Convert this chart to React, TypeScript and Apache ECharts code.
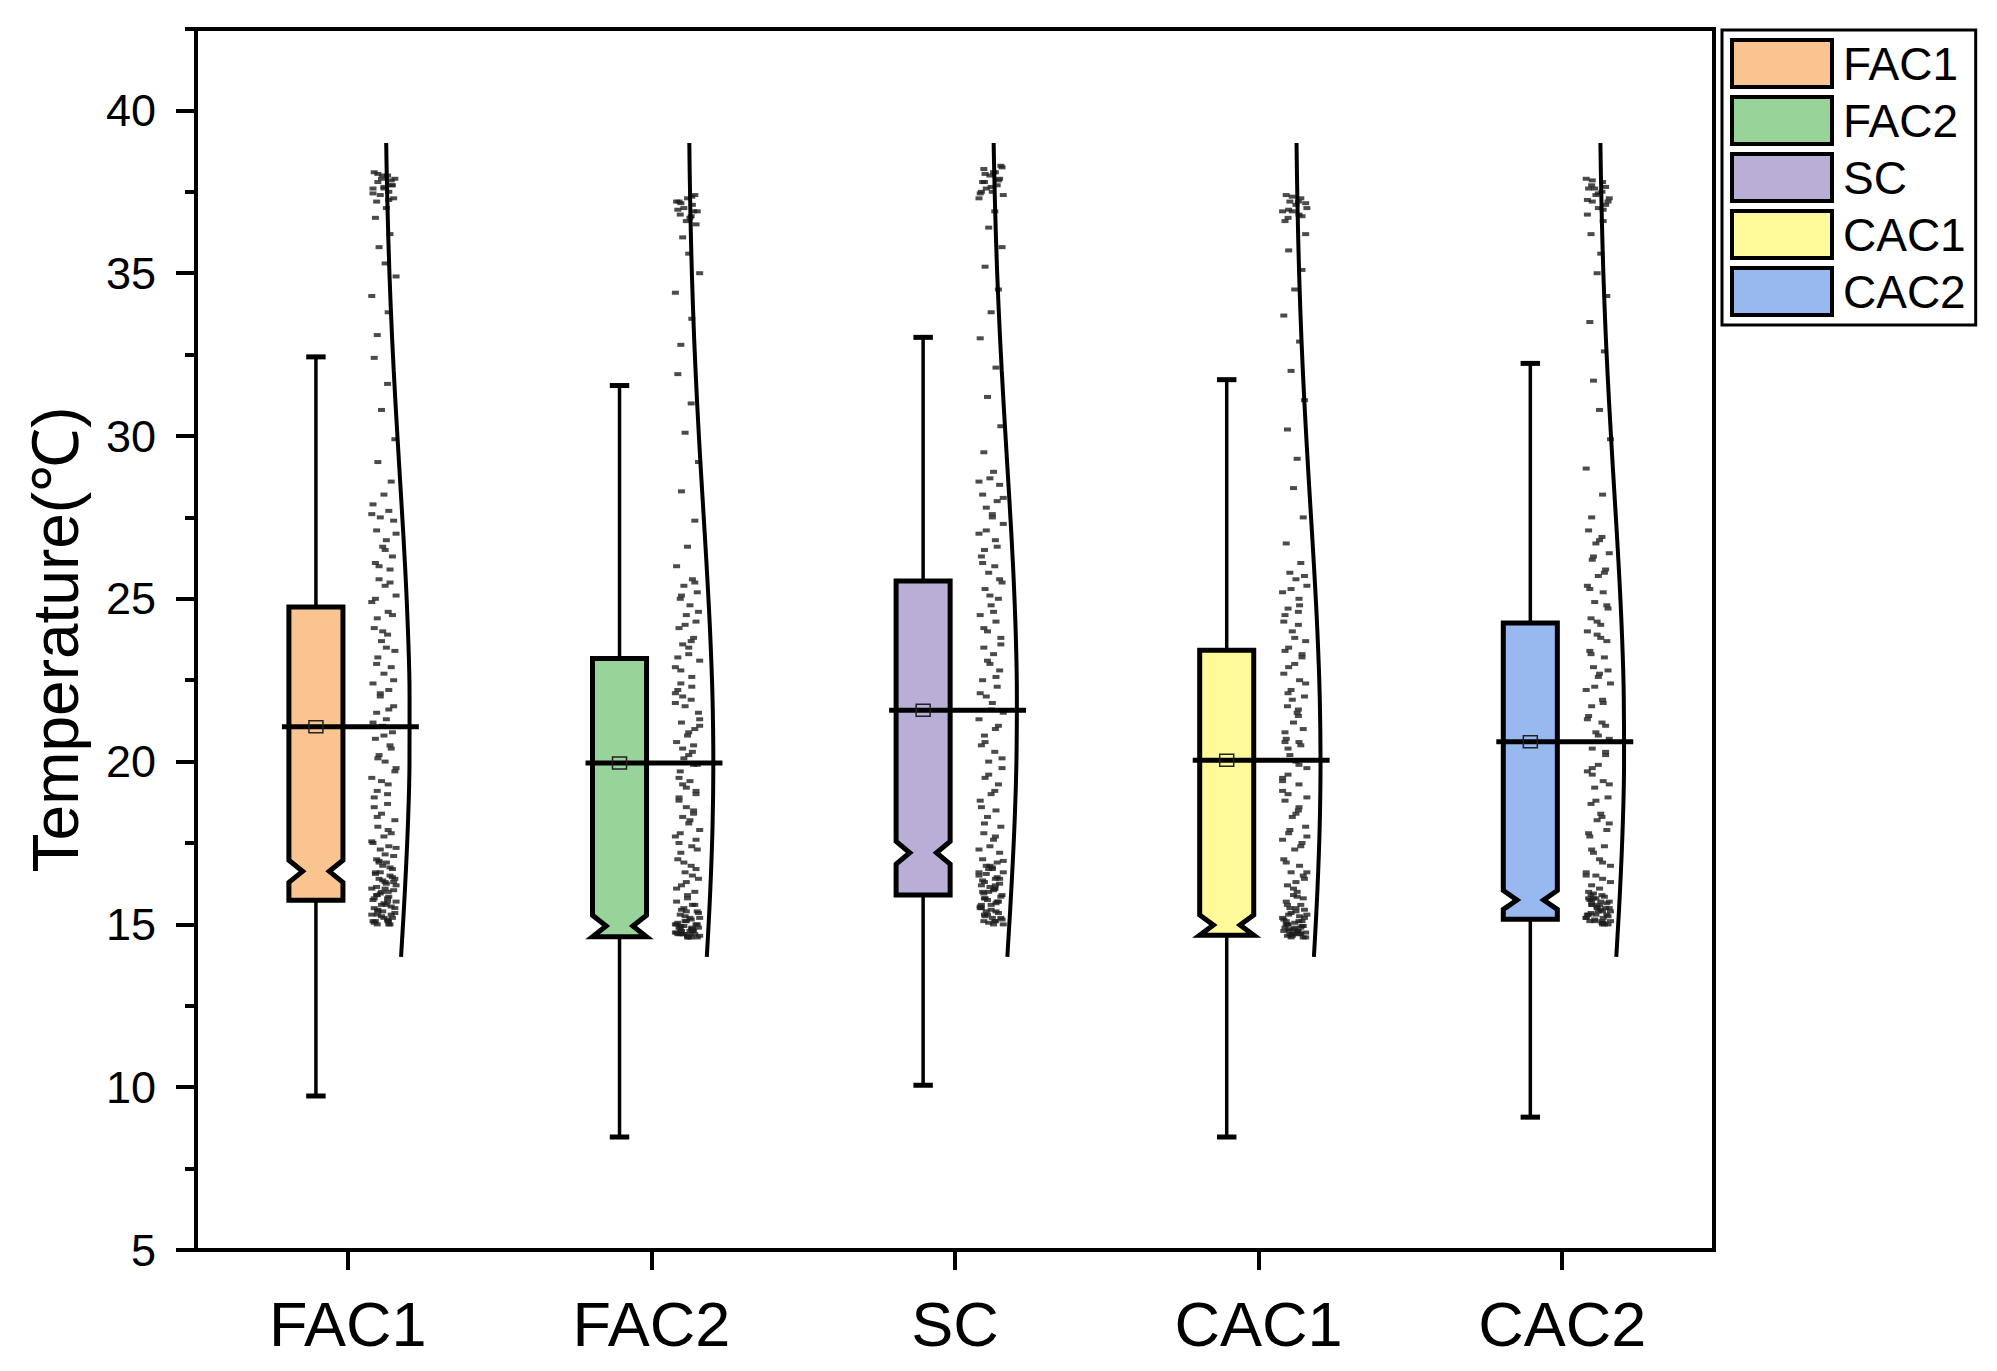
import React, { useEffect, useRef } from "react";
import * as echarts from "echarts";

const categories = ["FAC1", "FAC2", "SC", "CAC1", "CAC2"];
const boxColors = ["#FAC490", "#98D49A", "#BBAED6", "#FFFA99", "#98B8F0"];

// box statistics (°C)
const whiskerMin = [9.73, 8.47, 10.06, 8.47, 9.08];
const q1 = [15.74, 14.73, 15.9, 14.77, 15.16];
const median = [16.63, 14.95, 17.2, 14.98, 15.75];
const q3 = [24.75, 23.17, 25.55, 23.42, 24.26];
const whiskerMax = [32.43, 31.55, 33.03, 31.73, 32.23];
const means = [21.07, 19.96, 21.58, 20.04, 20.61];
const notchHalf = [0.34, 0.33, 0.35, 0.31, 0.29];

// y axis ticks
const yMin = 5;
const yMax = 42.5;
const yMajor = 5;
const yMinor = 2.5;

// raw observations (jittered scatter)
const pointsFAC1 = [
  38.1, 38.0, 37.9, 37.9, 37.8, 37.7, 37.6, 37.6, 37.5, 37.4, 37.3, 37.2, 37.0, 38.0, 37.7,
  36.7, 36.2, 35.8, 35.3, 34.9, 34.3, 33.8, 33.1, 32.4, 31.6, 30.8, 29.9, 29.2, 28.6, 28.2,
  27.9, 27.7, 27.5, 27.4, 27.1, 26.8, 26.6, 26.3, 26.1, 25.9, 25.6, 25.4, 25.1, 24.9, 24.6,
  24.4, 24.1, 23.9, 23.7, 23.4, 23.2, 22.9, 22.7, 22.4, 22.2, 22.0, 21.7, 21.5, 21.3, 21.1,
  20.9, 20.7, 20.5, 20.2, 20.0, 19.8, 19.5, 19.3, 19.1, 18.9, 18.7, 18.4, 18.2, 18.0, 17.8,
  17.7, 17.5, 17.4, 17.3, 17.1, 17.0, 16.9, 16.8, 16.7, 16.6, 16.5, 16.4, 16.3, 16.2, 16.1,
  16.0, 15.9, 15.8, 15.7, 15.6, 15.5, 15.4, 15.3, 15.2, 15.1, 15.0, 16.6, 16.3, 15.9, 15.6,
  15.4, 15.2, 15.1, 15.0, 16.9, 16.1, 15.7, 15.3, 15.1, 15.0,
  15.05, 15.15, 15.25, 15.35, 15.45, 15.55, 15.65, 15.75, 15.85, 15.95, 16.05, 16.15, 16.25,
  16.35, 16.45, 16.55, 16.75, 16.95, 17.15, 17.35, 17.55, 17.9, 18.3, 18.6, 19.0, 19.4, 19.7,
  20.1, 20.4, 20.8, 21.2, 21.6, 22.1, 22.5, 23.0, 23.5, 24.0, 24.5, 25.0, 25.5, 26.0, 26.5,
  27.0, 27.6, 15.1, 15.3, 15.5, 15.8, 16.0, 16.4, 38.05, 37.85, 37.65, 37.45, 37.25,
];
const pointsFAC2 = [
  37.4, 37.3, 37.2, 37.1, 37.0, 36.9, 36.8, 36.7, 36.6, 36.5, 37.2, 36.9,
  36.1, 35.6, 35.0, 34.4, 33.6, 32.8, 31.9, 31.0, 30.1, 29.2, 28.3, 27.4, 26.6, 26.0,
  25.6, 25.4, 25.2, 25.0, 24.8, 24.5, 24.3, 24.1, 23.8, 23.6, 23.3, 23.1, 22.9, 22.6, 22.4,
  22.2, 21.9, 21.7, 21.5, 21.2, 21.0, 20.8, 20.6, 20.3, 20.1, 19.9, 19.7, 19.4, 19.2, 19.0,
  18.8, 18.5, 18.3, 18.1, 17.9, 17.7, 17.4, 17.2, 17.0, 16.8, 16.6, 16.4, 16.2, 16.0, 15.9,
  15.7, 15.6, 15.5, 15.4, 15.3, 15.2, 15.1, 15.0, 14.9, 14.8, 14.7, 14.6, 15.2, 15.0, 14.9,
  14.8, 14.7, 14.6, 15.1, 14.9, 14.8, 14.7, 14.6, 15.0, 14.8, 14.7, 14.6, 14.9, 14.7, 16.3,
  17.6, 18.9, 20.5, 22.0, 23.5,
  14.65, 14.75, 14.85, 14.95, 15.05, 15.15, 15.25, 15.35, 15.45, 15.6, 15.8, 16.1, 16.5,
  16.9, 17.3, 17.8, 18.2, 18.6, 19.1, 19.5, 19.9, 20.4, 20.9, 21.3, 21.8, 22.3, 22.8, 23.2,
  23.7, 24.2, 24.6, 25.1, 25.5, 14.65, 14.75, 14.85, 14.95, 15.0, 14.7, 14.8, 15.4, 16.7,
  17.5, 18.4, 19.3, 20.2, 21.1, 22.1, 37.35, 37.15, 36.95, 36.75,
];
const pointsSC = [
  38.3, 38.2, 38.1, 38.0, 37.9, 37.8, 37.7, 37.6, 37.5, 37.4, 37.3, 38.1, 37.8, 37.5,
  36.9, 36.4, 35.8, 35.2, 34.5, 33.8, 33.0, 32.1, 31.2, 30.3, 29.5,
  28.9, 28.7, 28.5, 28.2, 28.0, 27.8, 27.5, 27.3, 27.0, 26.8, 26.5, 26.3, 26.0, 25.8, 25.5,
  25.3, 25.0, 24.8, 24.5, 24.3, 24.0, 23.8, 23.5, 23.3, 23.0, 22.8, 22.5, 22.3, 22.0, 21.8,
  21.5, 21.3, 21.0, 20.8, 20.5, 20.3, 20.0, 19.8, 19.5, 19.3, 19.0, 18.8, 18.5, 18.3, 18.0,
  17.8, 17.6, 17.4, 17.2, 17.0, 16.9, 16.8, 16.7, 16.6, 16.5, 16.4, 16.3, 16.2, 16.1, 16.0,
  15.9, 15.8, 15.7, 15.6, 15.5, 15.4, 15.3, 15.2, 15.1, 15.0, 16.8, 16.4, 16.0, 15.7, 15.4,
  15.2, 15.0, 16.6, 16.2, 15.8, 15.5, 15.1,
  15.05, 15.15, 15.25, 15.35, 15.45, 15.55, 15.65, 15.75, 15.85, 15.95, 16.05, 16.15, 16.25,
  16.35, 16.45, 16.55, 16.75, 16.95, 17.3, 17.7, 18.1, 18.6, 19.1, 19.6, 20.1, 20.6, 21.1,
  21.6, 22.1, 22.6, 23.1, 23.6, 24.1, 24.6, 25.1, 25.6, 26.1, 26.6, 27.1, 27.6, 28.1, 28.6,
  15.1, 15.3, 15.6, 16.1, 16.7, 38.25, 38.05, 37.85, 37.65, 37.45,
];
const pointsCAC1 = [
  37.4, 37.3, 37.2, 37.1, 37.0, 36.9, 36.8, 36.7, 36.6, 37.2, 36.9,
  36.2, 35.7, 35.1, 34.5, 33.7, 32.9, 32.0, 31.1, 30.2, 29.3, 28.4, 27.5, 26.7, 26.1,
  25.8, 25.6, 25.4, 25.2, 25.0, 24.7, 24.5, 24.2, 24.0, 23.7, 23.5, 23.2, 23.0, 22.7, 22.5,
  22.2, 22.0, 21.7, 21.5, 21.2, 21.0, 20.7, 20.5, 20.2, 20.0, 19.8, 19.5, 19.3, 19.0, 18.8,
  18.5, 18.3, 18.0, 17.8, 17.5, 17.3, 17.0, 16.8, 16.6, 16.4, 16.2, 16.0, 15.9, 15.8, 15.7,
  15.6, 15.5, 15.4, 15.3, 15.2, 15.1, 15.0, 14.9, 14.8, 14.7, 14.6, 15.3, 15.1, 14.9, 14.8,
  14.7, 14.6, 15.2, 15.0, 14.8, 14.7, 14.6, 15.1, 14.9, 14.7, 16.3, 17.7, 19.1, 20.6, 22.1,
  23.4, 24.6,
  14.65, 14.75, 14.85, 14.95, 15.05, 15.15, 15.25, 15.35, 15.45, 15.6, 15.85, 16.1, 16.5,
  16.9, 17.4, 17.9, 18.4, 18.9, 19.4, 19.9, 20.4, 20.9, 21.4, 21.9, 22.4, 22.9, 23.3, 23.8,
  24.3, 24.8, 25.3, 25.7, 14.65, 14.75, 14.85, 14.95, 15.0, 14.7, 14.8, 15.5, 16.6, 17.6,
  18.6, 19.6, 20.6, 21.6, 37.35, 37.15, 36.95, 36.75,
];
const pointsCAC2 = [
  37.9, 37.8, 37.7, 37.6, 37.5, 37.4, 37.3, 37.2, 37.1, 37.0, 36.8, 36.6, 37.6, 37.2,
  36.2, 35.6, 35.0, 34.3, 33.5, 32.6, 31.7, 30.8, 29.9, 29.0, 28.2, 27.5,
  27.1, 26.9, 26.7, 26.4, 26.2, 25.9, 25.7, 25.4, 25.2, 24.9, 24.7, 24.4, 24.2, 23.9, 23.7,
  23.4, 23.2, 22.9, 22.7, 22.4, 22.2, 21.9, 21.7, 21.4, 21.2, 20.9, 20.7, 20.4, 20.2, 19.9,
  19.7, 19.4, 19.2, 18.9, 18.7, 18.4, 18.2, 17.9, 17.7, 17.4, 17.2, 17.0, 16.8, 16.6, 16.4,
  16.2, 16.0, 15.9, 15.8, 15.7, 15.6, 15.5, 15.4, 15.3, 15.2, 15.1, 15.0, 15.9, 15.7, 15.5,
  15.3, 15.1, 15.0, 15.8, 15.6, 15.4, 15.2, 15.0, 15.7, 15.3, 15.1, 16.5, 18.1, 19.6, 21.1,
  22.6, 24.0,
  15.05, 15.15, 15.25, 15.35, 15.45, 15.55, 15.65, 15.75, 15.85, 15.95, 16.1, 16.3, 16.5,
  16.9, 17.3, 17.8, 18.3, 18.8, 19.3, 19.8, 20.3, 20.8, 21.3, 21.8, 22.3, 22.8, 23.3, 23.8,
  24.3, 24.8, 25.3, 25.8, 26.3, 26.8, 15.1, 15.2, 15.4, 15.6, 15.8, 15.05, 15.3, 15.5,
  37.85, 37.65, 37.45, 37.25, 36.95,
];
const pointSets = [pointsFAC1, pointsFAC2, pointsSC, pointsCAC1, pointsCAC2];

// fixed jitter pattern (fraction of scatter half-width)
const jitter = [
  -0.8, 0.3, -0.2, 0.9, -0.5, 0.6, 0.0, -0.9, 0.4, -0.3, 0.8, -0.6,
  0.2, -0.1, 0.7, -0.7, 0.5, -0.4, 0.1, 1.0, -1.0, 0.35, -0.55,
];

// normal-curve outline: temperature vs relative density
const curveTemps = [14, 16, 18, 20, 22, 24, 26, 28, 30, 32, 34, 36, 38, 39];
const curveFAC1 = [0.656, 0.805, 0.924, 0.99, 0.993, 0.93, 0.815, 0.667, 0.511, 0.365, 0.244, 0.153, 0.089, 0.066];
const curveFAC2 = [0.741, 0.876, 0.968, 1.0, 0.966, 0.871, 0.735, 0.58, 0.427, 0.295, 0.19, 0.114, 0.064, 0.047];
const curveSC = [0.619, 0.772, 0.9, 0.98, 0.998, 0.95, 0.846, 0.703, 0.547, 0.398, 0.27, 0.171, 0.102, 0.076];
const curveCAC1 = [0.737, 0.873, 0.966, 1.0, 0.968, 0.875, 0.74, 0.584, 0.432, 0.298, 0.192, 0.116, 0.065, 0.048];
const curveCAC2 = [0.689, 0.834, 0.943, 0.997, 0.985, 0.909, 0.785, 0.633, 0.478, 0.337, 0.222, 0.137, 0.079, 0.058];
const curveSets = [curveFAC1, curveFAC2, curveSC, curveCAC1, curveCAC2];

const FONT = '"Liberation Sans", Arial, Helvetica, sans-serif';

export default function App() {
  const ref = useRef<HTMLDivElement>(null);

  useEffect(() => {
    document.body.style.margin = "0";
    const chart = echarts.init(ref.current as HTMLDivElement, null, { renderer: "svg" });

    // layout offsets in category units
    const BOX_OFF = -0.105;
    const BOX_HALF = 0.089;
    const NOTCH_IND = 0.045;
    const CAP_HALF = 0.032;
    const ML = -0.217;
    const MR = 0.234;
    const SC_OFF = 0.119;
    const SC_HALF = 0.04;
    const CURVE_BASE = 0.121;
    const CURVE_AMP = 0.083;

    const boxSeries = categories.map((name, i) => ({
      name,
      type: "custom",
      xAxisIndex: 1,
      yAxisIndex: 0,
      z: 5,
      itemStyle: { color: boxColors[i], borderColor: "#000", borderWidth: 4 },
      encode: { x: 0, y: [1, 2, 3, 4, 5] },
      data: [[i, whiskerMin[i], q1[i], median[i], q3[i], whiskerMax[i], means[i], notchHalf[i]]],
      renderItem: (params: any, api: any) => {
        const c = api.value(0);
        const mn = api.value(1);
        const a = api.value(2);
        const md = api.value(3);
        const b = api.value(4);
        const mx = api.value(5);
        const mean = api.value(6);
        const nh = api.value(7);
        const cx = c + BOX_OFF;
        const P = (dx: number, v: number) => api.coord([cx + dx, v]);
        const nT = md + nh;
        const nB = md - nh;
        const bot = Math.min(a, nB);
        const H = BOX_HALF;
        const I = NOTCH_IND;
        const poly = [
          P(-H, b), P(H, b), P(H, nT), P(H - I, md), P(H, nB), P(H, bot),
          P(-H, bot), P(-H, nB), P(-H + I, md), P(-H, nT),
        ];
        const line = (p1: number[], p2: number[], w: number) => ({
          type: "line",
          shape: { x1: p1[0], y1: p1[1], x2: p2[0], y2: p2[1] },
          style: { stroke: "#000", lineWidth: w },
        });
        const m = P(0, mean);
        const mlL = api.coord([c + ML, mean]);
        const mlR = api.coord([c + MR, mean]);
        return {
          type: "group",
          children: [
            line(P(0, b), P(0, mx), 3.5),
            line(P(-CAP_HALF, mx), P(CAP_HALF, mx), 5),
            line(P(0, bot), P(0, mn), 3.5),
            line(P(-CAP_HALF, mn), P(CAP_HALF, mn), 5),
            {
              type: "polygon",
              shape: { points: poly },
              style: { fill: boxColors[i], stroke: "#000", lineWidth: 5, lineJoin: "miter" },
            },
            line(mlL, mlR, 5),
            {
              type: "rect",
              shape: { x: m[0] - 7, y: m[1] - 6, width: 14, height: 12 },
              style: { fill: "none", stroke: "#222", lineWidth: 1.5 },
            },
          ],
        };
      },
    }));

    const scatterData: number[][] = [];
    pointSets.forEach((pts, i) => {
      pts.forEach((v, k) => {
        scatterData.push([i + SC_OFF + jitter[(k + i * 5) % jitter.length] * SC_HALF, v]);
      });
    });

    const curveSeries = curveSets.map((dens, i) => ({
      name: "curve" + i,
      type: "line",
      xAxisIndex: 1,
      yAxisIndex: 0,
      z: 3,
      smooth: 0.4,
      symbol: "none",
      lineStyle: { color: "#000", width: 4 },
      data: curveTemps.map((t, k) => [i + CURVE_BASE + dens[k] * CURVE_AMP, t]),
    }));

    chart.setOption({
      animation: false,
      backgroundColor: "#fff",
      textStyle: { fontFamily: FONT },
      grid: {
        left: 196,
        top: 29,
        width: 1518,
        height: 1221,
        show: true,
        borderColor: "#000",
        borderWidth: 4,
        backgroundColor: "transparent",
      },
      legend: {
        data: categories,
        orient: "vertical",
        left: 1722,
        top: 30,
        icon: "rect",
        itemWidth: 100,
        itemHeight: 47,
        itemGap: 6,
        itemStyle: { borderColor: "#000", borderWidth: 4 },
        textStyle: { fontSize: 46, lineHeight: 47, color: "#000", fontFamily: FONT, padding: [0, 0, 0, 6] },
        backgroundColor: "#fff",
        borderColor: "#000",
        borderWidth: 3,
        borderRadius: 0,
        padding: [8, 10, 8, 8],
      },
      xAxis: [
        {
          type: "category",
          data: categories,
          boundaryGap: true,
          axisLine: { show: true, onZero: false, lineStyle: { color: "#000", width: 4 } },
          axisTick: { show: true, alignWithLabel: true, length: 20, lineStyle: { color: "#000", width: 4 } },
          axisLabel: { fontSize: 63, color: "#000", margin: 42, fontFamily: FONT },
          splitLine: { show: false },
        },
        {
          type: "value",
          min: -0.5,
          max: 4.5,
          show: false,
        },
      ],
      yAxis: [
        {
          type: "value",
          position: "left",
          min: yMin,
          max: yMax,
          interval: yMajor,
          name: "Temperature(℃)",
          nameLocation: "middle",
          nameGap: 108,
          nameTextStyle: { fontSize: 64, color: "#000", fontFamily: FONT },
          axisLine: { show: true, onZero: false, lineStyle: { color: "#000", width: 4 } },
          axisTick: { show: true, length: 20, lineStyle: { color: "#000", width: 4 } },
          axisLabel: { fontSize: 45, color: "#000", margin: 40, showMaxLabel: false, fontFamily: FONT },
          splitLine: { show: false },
        },
        {
          type: "value",
          position: "left",
          offset: 0,
          min: yMin,
          max: yMax,
          interval: yMinor,
          axisLine: { show: false, onZero: false },
          axisTick: { show: true, length: 11, lineStyle: { color: "#000", width: 4 } },
          axisLabel: { show: false },
          splitLine: { show: false },
        },
      ],
      series: [
        {
          name: "points",
          type: "scatter",
          xAxisIndex: 1,
          yAxisIndex: 0,
          z: 2,
          symbol: "rect",
          symbolSize: [7, 4],
          itemStyle: { color: "#1e1e1e", opacity: 0.8 },
          data: scatterData,
        },
        ...curveSeries,
        ...boxSeries,
      ],
    } as any);

    return () => chart.dispose();
  }, []);

  return <div ref={ref} style={{ width: 1997, height: 1371 }} />;
}
